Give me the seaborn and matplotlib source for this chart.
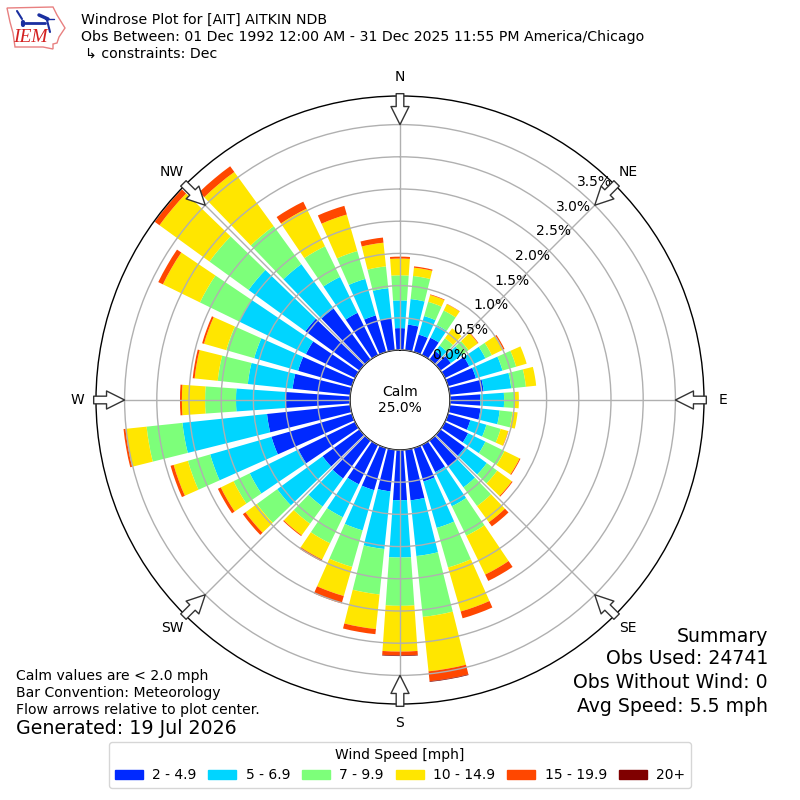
"""Windrose for AIT (December) drawn with seaborn bars on a polar axes."""
import matplotlib

matplotlib.use("Agg")
import matplotlib.pyplot as plt
import numpy as np
import pandas as pd
import seaborn as sns
from matplotlib.lines import Line2D
from matplotlib.patches import Patch, Polygon
from matplotlib.transforms import Affine2D

directions = np.arange(0, 360, 10)
speed_bins = ["2 - 4.9", "5 - 6.9", "7 - 9.9", "10 - 14.9", "15 - 19.9", "20+"]
bin_colors = ["#0029ff", "#00d5ff", "#7dff7a", "#ffe600", "#ff4700", "#800000"]

# percent of observations, per direction
speed_2_5 = [.34, .40, .28, .30, .16, .20, .42, .45, .53, .47, .48, .36, .40, .47, .50, .47, .54, .79,
             .78, .65, .68, .68, .73, .71, .98, 1.30, 1.30, 1.01, .90, .87, .85, 1.04, .98, .73, .59, .50]
speed_5_7 = [.43, .40, .30, .22, .11, .22, .28, .43, .43, .37, .30, .26, .30, .42, .40, .59, .75, .87,
             .89, .90, .65, .57, .54, .87, .84, .99, 1.32, .76, .70, .71, 1.15, 1.09, .85, .62, .59, .47]
speed_7_10 = [.39, .36, .23, .25, .14, .12, .11, .22, .23, .17, .20, .23, .33, .20, .36, .51, .64, .95,
              .75, .71, .59, .45, .33, .39, .28, .36, .56, .48, .47, .45, .68, .75, .73, .53, .45, .34]
speed_10_15 = [.26, .13, .11, .11, .19, .18, .20, .17, .16, .06, .08, .12, .26, .28, .31, .67, .71, .85,
               .71, .54, .47, .28, .22, .22, .22, .23, .33, .36, .36, .36, .64, .96, 1.04, .65, .59, .37]
speed_15_20 = [.03, .02, .01, .005, 0, .01, .02, 0, 0, 0, 0, .005, .015, .015, .08, .11, .11, .155,
               .06, .08, .12, .03, .015, .05, .05, .05, .03, .03, .03, .03, .08, .09, .11, .12, .14, .08]
speed_20_up = [0, 0, 0, 0, 0, 0, 0, 0, 0, 0, 0, 0, 0, 0, 0, 0, 0, .01,
               .01, 0, 0, 0, 0, 0, 0, 0, 0, 0, 0, 0, 0, 0, 0, 0, 0, 0]

pct_ticks = [0.0, 0.5, 1.0, 1.5, 2.0, 2.5, 3.0, 3.5]
compass = ["N", "NE", "E", "SE", "S", "SW", "W", "NW"]
compass_deg = [0, 45, 90, 135, 180, 225, 270, 315]

sns.set_theme(style="white", rc={"font.family": "DejaVu Sans"})
palette = sns.color_palette(bin_colors)

fig = plt.figure(figsize=(8, 8), dpi=100)
ax = fig.add_axes([0.12, 0.12, 0.76, 0.76], projection="polar")

values = np.array([speed_2_5, speed_5_7, speed_7_10, speed_10_15, speed_15_20, speed_20_up])
table = pd.DataFrame(values.T, columns=speed_bins)
table["theta"] = np.radians(directions)

# barplot has no bottom argument, so lift each layer onto the one below afterwards
bottoms = np.zeros(len(directions))
for name, color in zip(speed_bins, palette):
    drawn = len(ax.patches)
    sns.barplot(data=table, x="theta", y=name, color=color, native_scale=True,
                width=0.8, saturation=1, errorbar=None, legend=False, ax=ax)
    for bar, base in zip(ax.patches[drawn:], bottoms):
        bar.set_y(base)
        bar.set_edgecolor("none")
        bar.set_linewidth(0)
    bottoms = bottoms + table[name].to_numpy()

ax.set_xlabel("")
ax.set_ylabel("")
ax.set_theta_zero_location("N")
ax.set_theta_direction(-1)
ax.set_xlim(0, 2 * np.pi)
ax.set_rorigin(-0.776)
ax.set_rlim(0, 3.944)
ax.set_axisbelow(False)
ax.grid(True, color="#b0b0b0", linewidth=1)
ax.set_thetagrids(compass_deg, compass, fontsize=10, color="black")
ax.set_rgrids(pct_ticks, [f"{p:.1f}%" for p in pct_ticks], angle=40, fontsize=10, color="black")
ax.tick_params(axis="x", pad=0.4)
for side in ["polar", "inner"]:
    ax.spines[side].set_color("black")
    ax.spines[side].set_linewidth(1)

# flow arrows around the rim
for deg in compass_deg:
    ax.annotate("", xy=(np.radians(deg), 3.5), xytext=(np.radians(deg), 3.98), annotation_clip=False,
                arrowprops=dict(facecolor="white", edgecolor="#333333", linewidth=1,
                                width=5.5, headwidth=13, headlength=13, shrink=0),
                zorder=5)

fig.text(0.5, 0.5, "Calm\n25.0%", ha="center", va="center", fontsize=10, color="black")

header = ["Windrose Plot for [AIT] AITKIN NDB",
          "Obs Between: 01 Dec 1992 12:00 AM - 31 Dec 2025 11:55 PM America/Chicago"]
fig.text(81 / 800, 1 - 20 / 800, header[0], va="center", fontsize=10.15, color="black")
fig.text(81 / 800, 1 - 37 / 800, header[1], va="center", fontsize=10.15, color="black")
fig.text(85 / 800, 1 - 54 / 800, "\u21b3 constraints: Dec", va="center", fontsize=10.15, color="black")

notes = ["Calm values are < 2.0 mph", "Bar Convention: Meteorology", "Flow arrows relative to plot center."]
for y, line in zip([676, 693, 710], notes):
    fig.text(16 / 800, 1 - y / 800, line, va="center", fontsize=10.1, color="black")
fig.text(16 / 800, 1 - 729 / 800, "Generated: 19 Jul 2026", va="center", fontsize=13.7, color="black")

summary = ["Summary", "Obs Used: 24741", "Obs Without Wind: 0", "Avg Speed: 5.5 mph"]
for y, line in zip([636, 659, 682, 706], summary):
    fig.text(768 / 800, 1 - y / 800, line, ha="right", va="center", fontsize=13.6, color="black")

handles = [Patch(color=c, label=n) for n, c in zip(speed_bins, palette)]
leg = fig.legend(handles=handles, title="Wind Speed [mph]", ncols=6, loc="center",
                 bbox_to_anchor=(0.5, 1 - 765 / 800), fontsize=10, title_fontsize=10,
                 frameon=True, edgecolor="#cccccc", handlelength=2, handletextpad=0.67,
                 columnspacing=0.88)
for t in leg.get_texts():
    t.set_color("black")
leg.get_title().set_color("black")

# rough IEM logo, in pixels from the top left
to_fig = Affine2D().scale(1, -1).translate(0, 800)
outline = [(7, 8), (53, 7), (57, 15), (65, 28), (59, 37), (57, 43), (53, 44), (53, 49), (43, 47),
           (15, 47), (13, 33), (10, 22)]
fig.add_artist(Polygon(outline, closed=True, fill=False, edgecolor="#e88080", linewidth=1, transform=to_fig))
for xs, ys, lw in [([25, 45], [23, 23], 2), ([17, 22], [11, 19], 1.5), ([39, 48], [15, 19], 2.5),
                   ([47, 50], [20, 32], 1.5), ([23, 23], [22, 25], 3), ([45, 54], [19, 19], 1)]:
    fig.add_artist(Line2D(xs, ys, color="#1a2fa0", linewidth=lw, transform=to_fig))
fig.text(30 / 800, 1 - 38 / 800, "IEM", ha="center", va="center", color="#d42020", fontsize=14,
         family="Liberation Serif", style="italic")

fig.savefig("out.png", dpi=100)
plt.close(fig)
